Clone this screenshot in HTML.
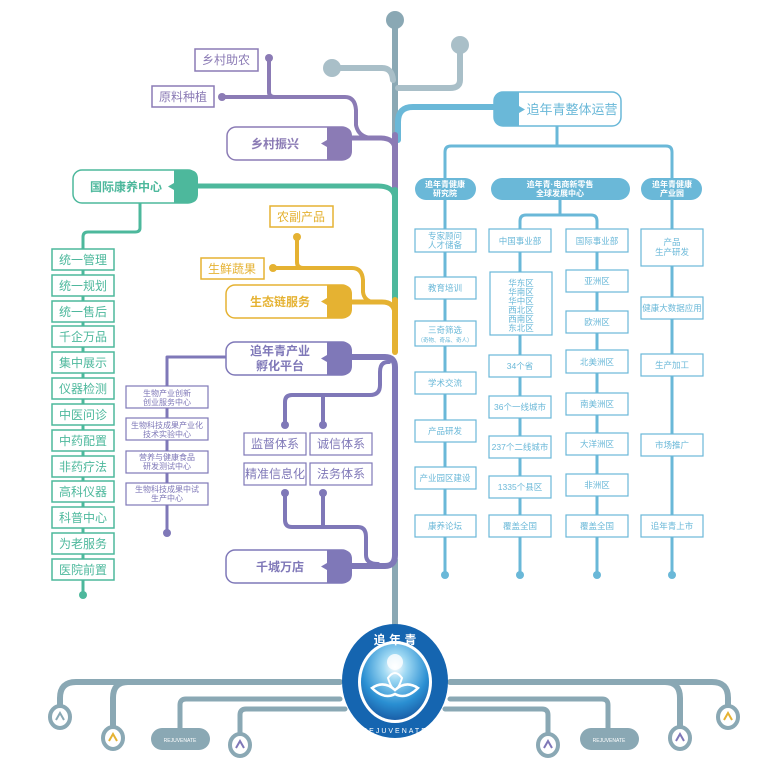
<!DOCTYPE html>
<html><head><meta charset="utf-8">
<style>
html,body{margin:0;padding:0;background:#fff;}
svg{display:block;}
text{font-family:"Liberation Sans","Noto Sans CJK SC",sans-serif;text-anchor:middle;}
</style></head><body>
<svg width="784" height="784" viewBox="0 0 784 784" xmlns="http://www.w3.org/2000/svg">
<g fill="none" stroke-linecap="round" stroke-linejoin="round">
<path d="M395 20 V135" stroke="#8aa8b4" stroke-width="6"/>
<path d="M332 68 H382 Q392 68 393 80" stroke="#a9bfc8" stroke-width="6"/>
<path d="M460 45 V80 Q460 88 450 88 H398" stroke="#a9bfc8" stroke-width="6"/>
<path d="M398 140 V122 Q398 107 413 107 H494" stroke="#6ab8d8" stroke-width="6"/>
<path d="M395 135 V190" stroke="#8b7bb5" stroke-width="6"/>
<path d="M395 190 V300" stroke="#4db89c" stroke-width="6"/>
<path d="M395 300 V352" stroke="#e5b232" stroke-width="6"/>
<path d="M395 560 V632" stroke="#8aa8b4" stroke-width="6"/>
<path d="M352 138 H380 Q395 138 395 150" stroke="#8b7bb5" stroke-width="5"/>
<path d="M222 97 H345 Q355 97 356 110 V125 Q358 136 370 138" stroke="#8b7bb5" stroke-width="4"/>
<path d="M269 58 V92 Q269 97 275 97" stroke="#8b7bb5" stroke-width="4"/>
<path d="M198 186 H378 Q395 186 395 200" stroke="#4db89c" stroke-width="5"/>
<path d="M140 203 V228 Q140 232 135 232 H88 Q83 232 83 237 V595" stroke="#4db89c" stroke-width="3"/>
<path d="M297 237 V262 Q297 268 303 268" stroke="#e5b232" stroke-width="4"/>
<path d="M273 268 H352 Q362 268 363 280 V292 Q364 300 372 302" stroke="#e5b232" stroke-width="4"/>
<path d="M352 302 H382 Q395 302 395 315" stroke="#e5b232" stroke-width="5"/>
<path d="M352 357 H385 Q395 357 395 367 V555 Q395 566 385 566 H352" stroke="#7f78b8" stroke-width="6"/>
<path d="M389 362 H388 Q380 362 380 372 V385 Q380 395 370 395 H292 Q285 395 285 402 V425" stroke="#7f78b8" stroke-width="4"/>
<path d="M323 395 V425" stroke="#7f78b8" stroke-width="4"/>
<path d="M285 493 V520 Q285 527 292 527 H358 Q366 527 366 537 V555 Q366 564 378 564" stroke="#7f78b8" stroke-width="4"/>
<path d="M323 493 V527" stroke="#7f78b8" stroke-width="4"/>
<path d="M225 357 H167 V533" stroke="#7f78b8" stroke-width="3"/>
<path d="M557 126 V146" stroke="#6ab8d8" stroke-width="3"/>
<path d="M445 178 V152 Q445 146 451 146 H666 Q672 146 672 152 V178" stroke="#6ab8d8" stroke-width="3"/>
<path d="M560 200 V215 M520 229 V221 Q520 215 526 215 H591 Q597 215 597 221 V229" stroke="#6ab8d8" stroke-width="3"/>
<path d="M445 200 V575 M520 252 V575 M597 252 V575 M672 200 V575" stroke="#6ab8d8" stroke-width="3"/>
<path d="M340 682 H76 Q60 682 60 698 V706" stroke="#8aa8b4" stroke-width="6"/>
<path d="M128 682 Q113 682 113 698 V727" stroke="#8aa8b4" stroke-width="6"/>
<path d="M340 699 H186 Q180 699 180 705 V730" stroke="#8aa8b4" stroke-width="5"/>
<path d="M345 709 H246 Q240 709 240 715 V734" stroke="#8aa8b4" stroke-width="5"/>
<path d="M450 682 H712 Q728 682 728 698 V706" stroke="#8aa8b4" stroke-width="6"/>
<path d="M665 682 Q680 682 680 698 V727" stroke="#8aa8b4" stroke-width="6"/>
<path d="M450 699 H602 Q608 699 608 705 V730" stroke="#8aa8b4" stroke-width="5"/>
<path d="M445 709 H542 Q548 709 548 715 V734" stroke="#8aa8b4" stroke-width="5"/>
</g>
<g>
<circle cx="395" cy="20" r="9" fill="#8aa8b4"/>
<circle cx="460" cy="45" r="9" fill="#a9bfc8"/>
<circle cx="332" cy="68" r="9" fill="#a9bfc8"/>
<circle cx="269" cy="58" r="4" fill="#8b7bb5"/>
<circle cx="222" cy="97" r="4" fill="#8b7bb5"/>
<circle cx="83" cy="595" r="4" fill="#4db89c"/>
<circle cx="297" cy="237" r="4" fill="#e5b232"/>
<circle cx="273" cy="268" r="4" fill="#e5b232"/>
<circle cx="285" cy="425" r="4" fill="#7f78b8"/><circle cx="323" cy="425" r="4" fill="#7f78b8"/>
<circle cx="285" cy="493" r="4" fill="#7f78b8"/><circle cx="323" cy="493" r="4" fill="#7f78b8"/>
<circle cx="167" cy="533" r="4" fill="#7f78b8"/>
<circle cx="445" cy="575" r="4" fill="#6ab8d8"/><circle cx="520" cy="575" r="4" fill="#6ab8d8"/>
<circle cx="597" cy="575" r="4" fill="#6ab8d8"/><circle cx="672" cy="575" r="4" fill="#6ab8d8"/>
</g>
<g font-weight="bold" font-size="12">
<rect x="227" y="127" width="124" height="33" rx="9" fill="#fff" stroke="#8b7bb5" stroke-width="1.5"/>
<path d="M327 127 H342 Q352 127 352 136 V151 Q352 160 342 160 H327 V147 L321 143.5 L327 140 Z" fill="#8b7bb5"/>
<text x="275" y="148" fill="#8b7bb5">乡村振兴</text>
<rect x="73" y="170" width="124" height="33" rx="9" fill="#fff" stroke="#4db89c" stroke-width="1.5"/>
<path d="M174 170 H189 Q198 170 198 179 V194 Q198 203 189 203 H174 V190 L168 186.5 L174 183 Z" fill="#4db89c"/>
<text x="126" y="191" fill="#4db89c">国际康养中心</text>
<rect x="226" y="285" width="125" height="33" rx="9" fill="#fff" stroke="#e5b232" stroke-width="1.5"/>
<path d="M327 285 H342 Q352 285 352 294 V309 Q352 318 342 318 H327 V305 L321 301.5 L327 298 Z" fill="#e5b232"/>
<text x="280" y="306" fill="#e5b232">生态链服务</text>
<rect x="226" y="342" width="125" height="33" rx="9" fill="#fff" stroke="#7f78b8" stroke-width="1.5"/>
<path d="M327 342 H342 Q352 342 352 351 V366 Q352 375 342 375 H327 V362 L321 358.5 L327 355 Z" fill="#7f78b8"/>
<text x="280" y="355" fill="#7f78b8">追年青产业</text>
<text x="280" y="370" fill="#7f78b8">孵化平台</text>
<rect x="226" y="550" width="125" height="33" rx="9" fill="#fff" stroke="#7f78b8" stroke-width="1.5"/>
<path d="M327 550 H342 Q352 550 352 559 V574 Q352 583 342 583 H327 V570 L321 566.5 L327 563 Z" fill="#7f78b8"/>
<text x="280" y="571" fill="#7f78b8">千城万店</text>
</g>
<rect x="494" y="92" width="127" height="34" rx="9" fill="#fff" stroke="#6ab8d8" stroke-width="1.5"/>
<path d="M519 92 H503 Q494 92 494 101 V117 Q494 126 503 126 H519 V113 L525 109.5 L519 106 Z" fill="#6ab8d8"/>
<text x="572" y="114" font-size="13" fill="#6ab8d8">追年青整体运营</text>
<g fill="#fff" stroke-width="1.5">
<rect x="195" y="49" width="63" height="22" stroke="#8b7bb5"/>
<rect x="152" y="86" width="62" height="21" stroke="#8b7bb5"/>
<rect x="270" y="206" width="63" height="21" stroke="#e5b232"/>
<rect x="201" y="258" width="63" height="21" stroke="#e5b232"/>
</g>
<g font-size="12">
<text x="226" y="64" fill="#8b7bb5">乡村助农</text>
<text x="183" y="101" fill="#8b7bb5">原料种植</text>
<text x="301" y="221" fill="#e5b232">农副产品</text>
<text x="232" y="273" fill="#e5b232">生鲜蔬果</text>
</g>
<g fill="#fff" stroke="#4db89c" stroke-width="1.5">
<rect x="52" y="249" width="62" height="21"/><rect x="52" y="275" width="62" height="21"/>
<rect x="52" y="301" width="62" height="21"/><rect x="52" y="326" width="62" height="21"/>
<rect x="52" y="352" width="62" height="21"/><rect x="52" y="378" width="62" height="21"/>
<rect x="52" y="404" width="62" height="21"/><rect x="52" y="430" width="62" height="21"/>
<rect x="52" y="456" width="62" height="21"/><rect x="52" y="481" width="62" height="21"/>
<rect x="52" y="507" width="62" height="21"/><rect x="52" y="533" width="62" height="21"/>
<rect x="52" y="559" width="62" height="21"/>
</g>
<g font-size="12" fill="#4db89c">
<text x="83" y="264">统一管理</text><text x="83" y="290">统一规划</text><text x="83" y="316">统一售后</text>
<text x="83" y="341">千企万品</text><text x="83" y="367">集中展示</text><text x="83" y="393">仪器检测</text>
<text x="83" y="419">中医问诊</text><text x="83" y="445">中药配置</text><text x="83" y="471">非药疗法</text>
<text x="83" y="496">高科仪器</text><text x="83" y="522">科普中心</text><text x="83" y="548">为老服务</text>
<text x="83" y="574">医院前置</text>
</g>
<g fill="#fff" stroke="#7f78b8" stroke-width="1.2">
<rect x="126" y="386" width="82" height="22"/><rect x="126" y="418" width="82" height="22"/>
<rect x="126" y="451" width="82" height="22"/><rect x="126" y="483" width="82" height="22"/>
<rect x="244" y="433" width="62" height="22"/><rect x="310" y="433" width="62" height="22"/>
<rect x="244" y="463" width="62" height="22"/><rect x="310" y="463" width="62" height="22"/>
</g>
<g font-size="8" fill="#7f78b8">
<text x="167" y="396">生物产业创新</text><text x="167" y="405">创业服务中心</text>
<text x="167" y="428">生物科技成果产业化</text><text x="167" y="437">技术实验中心</text>
<text x="167" y="460">营养与健康食品</text><text x="167" y="469">研发测试中心</text>
<text x="167" y="492">生物科技成果中试</text><text x="167" y="501">生产中心</text>
</g>
<g font-size="12" fill="#7f78b8">
<text x="275" y="448">监督体系</text><text x="341" y="448">诚信体系</text>
<text x="275" y="478">精准信息化</text><text x="341" y="478">法务体系</text>
</g>
<g fill="#6ab8d8">
<rect x="415" y="178" width="61" height="22" rx="11"/>
<rect x="491" y="178" width="139" height="22" rx="11"/>
<rect x="641" y="178" width="61" height="22" rx="11"/>
</g>
<g font-size="8" fill="#fff" font-weight="bold">
<text x="445" y="187">追年青健康</text><text x="445" y="196">研究院</text>
<text x="560" y="187">追年青·电商新零售</text><text x="560" y="196">全球发展中心</text>
<text x="672" y="187">追年青健康</text><text x="672" y="196">产业园</text>
</g>
<g fill="#fff" stroke="#6ab8d8" stroke-width="1.2">
<rect x="415" y="229" width="61" height="23"/><rect x="415" y="277" width="61" height="22"/>
<rect x="415" y="321" width="61" height="25"/><rect x="415" y="372" width="61" height="22"/>
<rect x="415" y="420" width="61" height="22"/><rect x="415" y="467" width="61" height="22"/>
<rect x="415" y="515" width="61" height="22"/>
<rect x="489" y="229" width="62" height="23"/><rect x="490" y="272" width="62" height="63"/>
<rect x="489" y="355" width="62" height="22"/><rect x="489" y="396" width="62" height="22"/>
<rect x="489" y="436" width="62" height="22"/><rect x="489" y="476" width="62" height="22"/>
<rect x="489" y="515" width="62" height="22"/>
<rect x="566" y="229" width="62" height="23"/><rect x="566" y="270" width="62" height="22"/>
<rect x="566" y="311" width="62" height="22"/><rect x="566" y="350" width="62" height="23"/>
<rect x="566" y="393" width="62" height="22"/><rect x="566" y="433" width="62" height="22"/>
<rect x="566" y="474" width="62" height="22"/><rect x="566" y="515" width="62" height="22"/>
<rect x="641" y="229" width="62" height="37"/><rect x="641" y="297" width="62" height="22"/>
<rect x="641" y="354" width="62" height="22"/><rect x="641" y="434" width="62" height="22"/>
<rect x="641" y="515" width="62" height="22"/>
</g>
<g font-size="8.5" fill="#6ab8d8">
<text x="445" y="239">专家顾问</text><text x="445" y="248">人才储备</text>
<text x="445" y="291">教育培训</text>
<text x="445" y="333">三奇筛选</text><text x="445" y="342" font-size="5.5">（奇物、奇品、奇人）</text>
<text x="445" y="386">学术交流</text><text x="445" y="434">产品研发</text>
<text x="445" y="481">产业园区建设</text><text x="445" y="529">康养论坛</text>
<text x="520" y="244">中国事业部</text>
<text x="521" y="286">华东区</text><text x="521" y="295">华南区</text><text x="521" y="304">华中区</text>
<text x="521" y="313">西北区</text><text x="521" y="322">西南区</text><text x="521" y="331">东北区</text>
<text x="520" y="369">34个省</text><text x="520" y="410">36个一线城市</text>
<text x="520" y="450">237个二线城市</text><text x="520" y="490">1335个县区</text>
<text x="520" y="529">覆盖全国</text>
<text x="597" y="244">国际事业部</text><text x="597" y="284">亚洲区</text>
<text x="597" y="325">欧洲区</text><text x="597" y="365">北美洲区</text>
<text x="597" y="407">南美洲区</text><text x="597" y="447">大洋洲区</text>
<text x="597" y="488">非洲区</text><text x="597" y="529">覆盖全国</text>
<text x="672" y="245">产品</text><text x="672" y="255">生产研发</text>
<text x="672" y="311">健康大数据应用</text><text x="672" y="368">生产加工</text>
<text x="672" y="448">市场推广</text><text x="672" y="529">追年青上市</text>
</g>
<g stroke="#8aa8b4" stroke-width="4" fill="#fff">
<ellipse cx="60" cy="717" rx="10" ry="11"/><ellipse cx="113" cy="738" rx="10" ry="11"/>
<ellipse cx="240" cy="745" rx="10" ry="11"/><ellipse cx="548" cy="745" rx="10" ry="11"/>
<ellipse cx="680" cy="738" rx="10" ry="11"/><ellipse cx="728" cy="717" rx="10" ry="11"/>
</g>
<g fill="none" stroke-width="2">
<path d="M56 720 L60 713 L64 720" stroke="#8aa8b4"/>
<path d="M109 741 L113 734 L117 741" stroke="#e5b232"/>
<path d="M236 748 L240 741 L244 748" stroke="#7f78b8"/>
<path d="M544 748 L548 741 L552 748" stroke="#7f78b8"/>
<path d="M676 741 L680 734 L684 741" stroke="#7f78b8"/>
<path d="M724 720 L728 713 L732 720" stroke="#e5b232"/>
</g>
<rect x="151" y="728" width="59" height="22" rx="11" fill="#8aa8b4"/>
<rect x="580" y="728" width="59" height="22" rx="11" fill="#8aa8b4"/>
<text x="180" y="742" font-size="5" fill="#fff">REJUVENATE</text>
<text x="609" y="742" font-size="5" fill="#fff">REJUVENATE</text>
<defs>
<radialGradient id="lg" cx="0.5" cy="0.3" r="0.7">
<stop offset="0" stop-color="#ffffff"/><stop offset="0.25" stop-color="#9ed8f3"/>
<stop offset="0.7" stop-color="#2a8fd2"/><stop offset="1" stop-color="#1a5fa8"/>
</radialGradient>
</defs>
<ellipse cx="395" cy="681" rx="53" ry="57" fill="#1565b0"/>
<ellipse cx="395" cy="682" rx="37" ry="41" fill="#fff"/>
<ellipse cx="395" cy="682" rx="34" ry="38" fill="url(#lg)"/>
<circle cx="395" cy="662" r="8" fill="#fff" opacity="0.8"/>
<path d="M372 688 Q384 680 395 690 Q406 680 418 688 Q406 700 395 694 Q384 700 372 688 Z" fill="none" stroke="#fff" stroke-width="2.5"/>
<path d="M388 678 Q395 668 402 678 Q399 688 395 690 Q391 688 388 678 Z" fill="none" stroke="#fff" stroke-width="2"/>
<text x="395" y="644" font-size="12" fill="#fff" font-weight="bold" font-family="Noto Serif CJK SC, serif">追 年 青</text>
<text x="395" y="733" font-size="7" fill="#fff" font-family="Liberation Serif, serif" letter-spacing="2">REJUVENATE</text>
</svg>
</body></html>
